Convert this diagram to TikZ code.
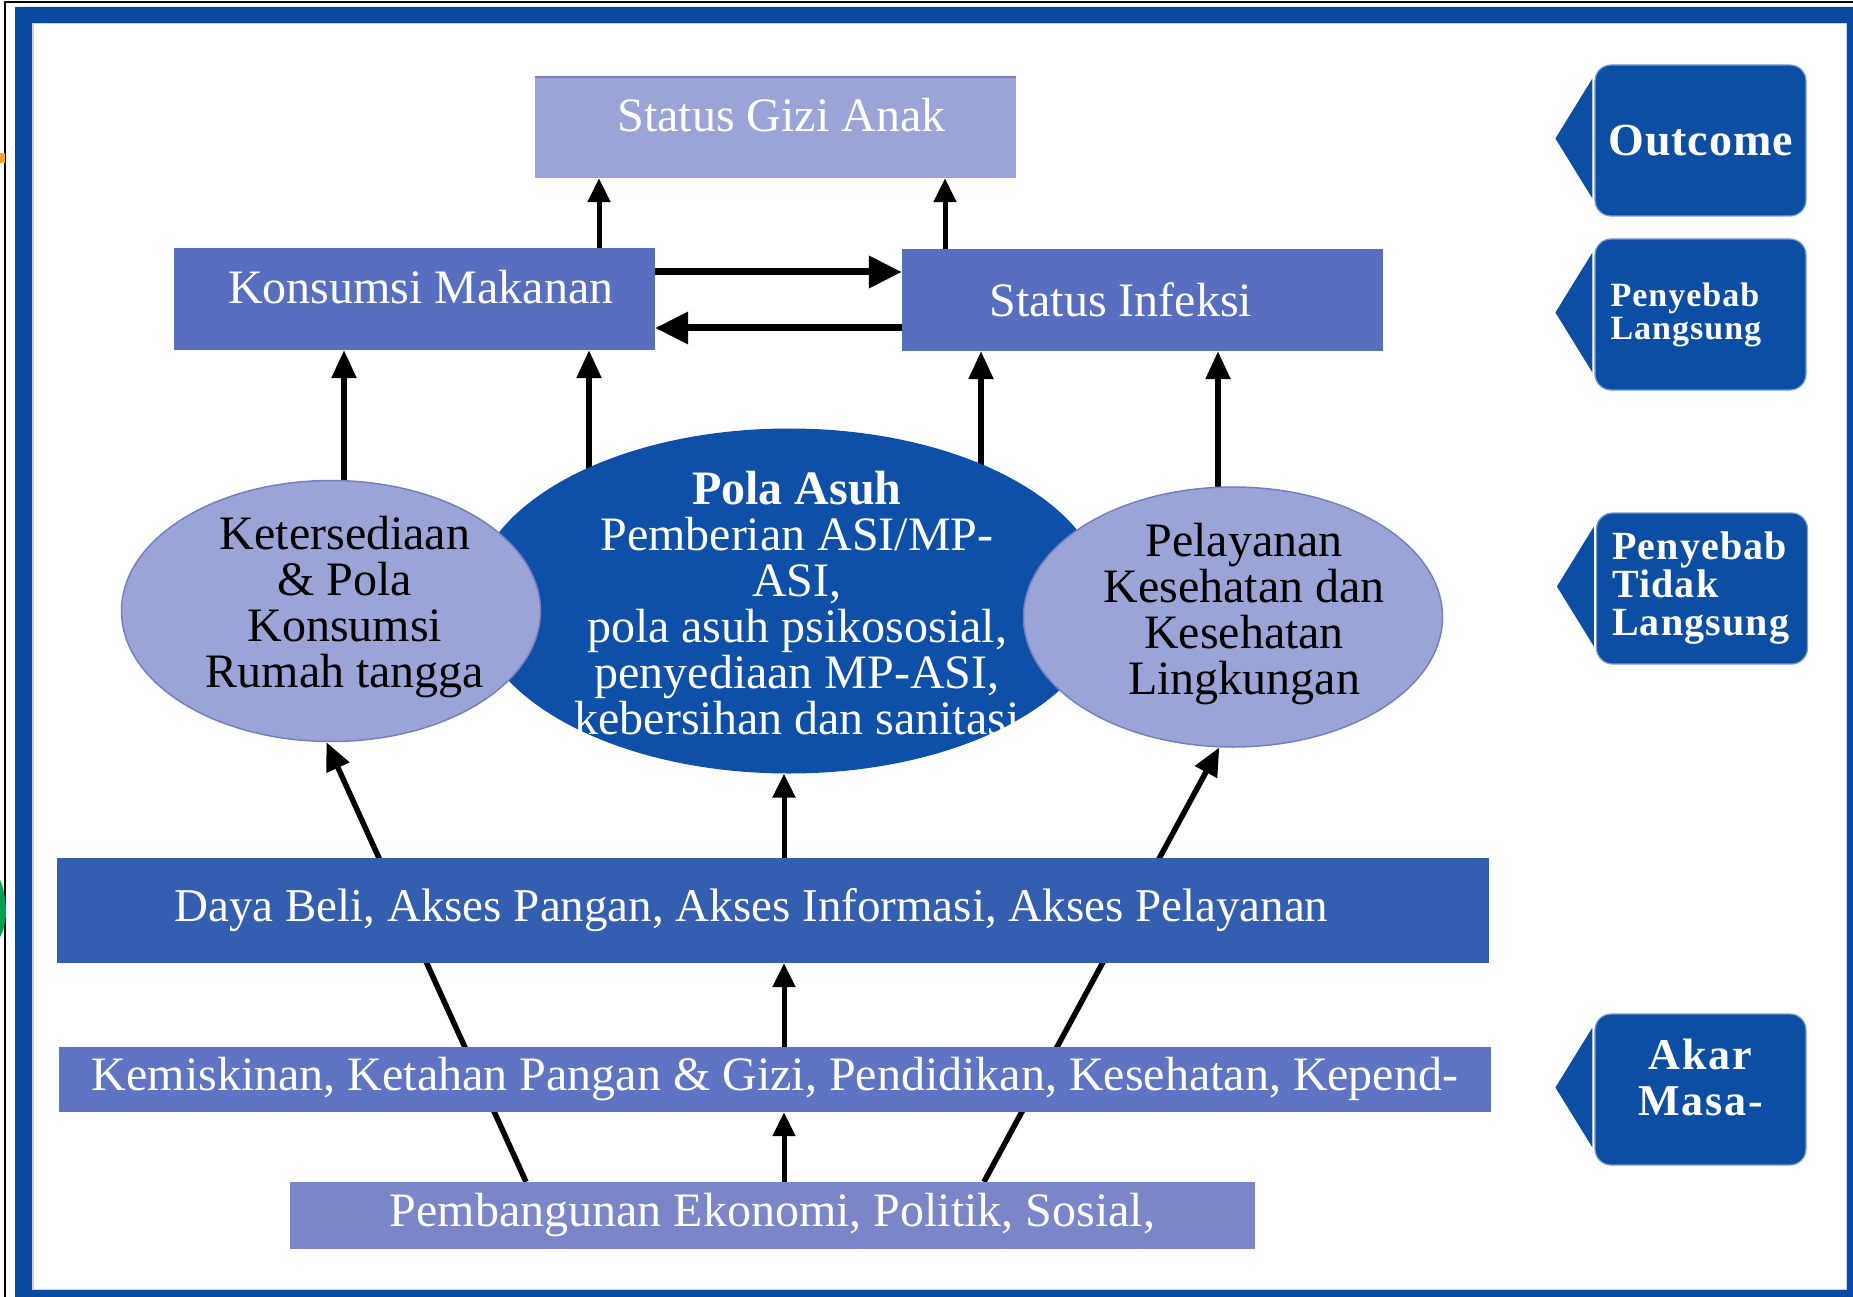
\documentclass[tikz,border=0pt]{standalone}
\usepackage{fontspec}
\setmainfont{Liberation Serif}
\usepackage{tikz}
\usetikzlibrary{arrows.meta, calc, positioning, shapes.geometric, backgrounds}
\usepackage{xcolor}

\definecolor{bingkai}{RGB}{10,74,160}
\definecolor{biruTua}{RGB}{14,79,168}
\definecolor{biruLabel}{RGB}{11,78,164}
\definecolor{biruSedang}{RGB}{88,111,192}
\definecolor{biruBeli}{RGB}{52,94,176}
\definecolor{biruMiskin}{RGB}{96,116,196}
\definecolor{biruBangun}{RGB}{122,134,200}
\definecolor{lavender}{RGB}{155,164,214}
\definecolor{garisElips}{RGB}{118,128,192}
\definecolor{oranye}{RGB}{245,166,35}
\definecolor{hijau}{RGB}{0,160,80}

\newcommand{\hurufisi}{\fontsize{48}{46}\selectfont}

\begin{document}
\begin{tikzpicture}[x=1pt, y=-1pt,
    kotak/.style={rectangle, minimum width=481pt, minimum height=101pt, inner sep=0pt, text=white, font=\hurufisi},
    pita/.style={rectangle, minimum width=1432pt, inner sep=0pt, text=white},
    elips/.style={ellipse, inner sep=0pt, minimum width=419pt, minimum height=261pt, fill=lavender, draw=garisElips, line width=1.5pt},
    isi/.style={align=center, inner sep=0pt, font=\hurufisi},
    tingkat/.style={rectangle, rounded corners=16pt, fill=biruLabel, draw=biruLabel!55!white, line width=1.2pt, minimum width=211pt, minimum height=151pt, inner sep=0pt, text=white},
    panah/.style={line width=5.5pt, -{Triangle[length=28pt, width=24pt]}},
    panahkecil/.style={line width=5pt, -{Triangle[length=24pt, width=22pt]}},
    panahtebal/.style={line width=7pt, -{Triangle[length=33pt, width=31pt]}},
  ]
    \useasboundingbox (0,0) rectangle (1853,1297);

    % Outcome
    \node[kotak, fill=lavender, text height=33pt, text depth=24pt, text width=340pt, align=flush right] (gizi) at (775.5,127.5) {Status Gizi Anak};
    \draw[garisElips, line width=2pt] (gizi.north west) -- (gizi.north east);

    % Penyebab langsung
    \node[kotak, fill=biruSedang, minimum height=102pt, text height=33pt, text depth=24pt, text width=398pt, align=flush right] (konsumsi) at (414.5,299) {Konsumsi Makanan};
    \node[kotak, fill=biruSedang, minimum height=102pt, text width=306pt, align=flush left] (infeksi) at (1142.5,300) {Status Infeksi};

    % Penyebab tidak langsung
    \node[ellipse, inner sep=0pt, minimum width=632pt, minimum height=345pt, fill=biruTua] (pola) at (789,601) {};
    \node[isi, text=white] (polateks) at (797,603) {\textbf{Pola Asuh}\\Pemberian ASI/MP-\\ASI,\\pola asuh psikososial,\\penyediaan MP-ASI,\\kebersihan dan sanitasi};
    \node[elips] (keter) at (331,611) {};
    \node[isi] (keterteks) at (345,607) {Ketersediaan\\\& Pola\\Konsumsi\\Rumah tangga};
    \node[elips, minimum height=260pt] (pelay) at (1233,617) {};
    \node[isi] (pelayteks) at (1244,614) {Pelayanan\\Kesehatan dan\\Kesehatan\\Lingkungan};

    % Akar masalah
    \node[pita, fill=biruBeli, minimum height=105pt, text width=1197pt, align=flush left,
      font=\fontsize{47}{48}\selectfont] (beli) at (773,910.5)
      {Daya Beli, Akses Pangan, Akses Informasi, Akses Pelayanan};
    \node[pita, fill=biruMiskin, minimum height=65pt,
      font=\fontsize{48}{48}\selectfont] (miskin) at (775,1079.5)
      {Kemiskinan, Ketahan Pangan \& Gizi, Pendidikan, Kesehatan, Kepend-};
    \node[pita, fill=biruBangun, minimum width=965pt, minimum height=67pt,
      font=\fontsize{48}{48}\selectfont] (bangun) at (772.5,1215.5)
      {Pembangunan Ekonomi, Politik, Sosial,};

    % Label tingkat
    \node[tingkat, font=\fontsize{46}{48}\selectfont\bfseries\addfontfeatures{LetterSpace=2}] (hasil) at (1700.5,140.5) {Outcome};
    \node[tingkat, align=flush left, text width=180pt, font=\fontsize{34}{33}\selectfont\bfseries\addfontfeatures{LetterSpace=3}] (langsung) at (1700.5,314.5) {Penyebab\\Langsung};
    \node[tingkat, align=flush left, text width=180pt, font=\fontsize{40}{38}\selectfont\bfseries\addfontfeatures{LetterSpace=3}] (tidak) at (1702,588.5) {Penyebab\\Tidak\\Langsung};
    \node[tingkat, align=center, text depth=24pt, font=\fontsize{44}{46}\selectfont\bfseries\addfontfeatures{LetterSpace=4}] (akar) at (1700.5,1089.5) {Akar\\Masa-};
    \foreach \n in {hasil, langsung, tidak, akar}
      \fill[biruLabel] ([xshift=-2pt, yshift=62pt]\n.west) -- ([xshift=-39pt, yshift=2pt]\n.west) -- ([xshift=-2pt, yshift=-58pt]\n.west) -- cycle;

    % Panah atas
    \draw[panahkecil] ([xshift=184.5pt]konsumsi.north) -- ([xshift=184.5pt]konsumsi.north |- gizi.south);
    \draw[panahkecil] ([xshift=-197.5pt]infeksi.north) -- ([xshift=-197.5pt]infeksi.north |- gizi.south);
    \draw[panahtebal] ([yshift=27pt]konsumsi.east) -- ([yshift=27pt]konsumsi.east -| infeksi.west);
    \draw[panahtebal] ([yshift=-28pt]infeksi.west) -- ([yshift=-28pt]infeksi.west -| konsumsi.east);

    % Panah tengah
    \draw[panahkecil] ([xshift=11.5pt]bangun.north) -- ([xshift=11.5pt]bangun.north |- miskin.south);
    \draw[panahkecil] ([xshift=9pt]miskin.north) -- ([xshift=9pt]miskin.north |- beli.south);
    \draw[panahkecil] ([xshift=11pt]beli.north) -- ([xshift=11pt]beli.north |- pola.south);

    \begin{pgfonlayer}{background}
      \fill[white] (0,0) rectangle (1853,1297);
      % bingkai
      \fill[bingkai, even odd rule] (15,7) rectangle (1870,1310) (32,23) rectangle (1847,1290);
      \draw[blue!20, line width=1.5pt] (32.75,23.75) rectangle (1846.25,1289.25);
      \draw[black, line width=1.8pt] (5,1297) -- (5,2) -- (1853,2);
      \fill[oranye] (0,153) rectangle (4.5,163);
      \fill[hijau] (0,880) .. controls (5,890) and (6,905) .. (6,912) .. controls (6,920) and (4,930) .. (0,937) -- cycle;

      % panah ke penyebab langsung
      \draw[panah] ([xshift=13pt]keter.center) -- ([xshift=13pt]keter.center |- konsumsi.south);
      \draw[panah] ([xshift=-200pt]pola.center) -- ([xshift=-200pt]pola.center |- konsumsi.south);
      \draw[panah] ([xshift=192pt]pola.center) -- ([xshift=192pt]pola.center |- infeksi.south);
      \draw[panah] ([xshift=-15pt]pelay.center) -- ([xshift=-15pt]pelay.center |- infeksi.south);

      % garis diagonal
      \draw[panah] ([xshift=-246.5pt]bangun.north) -- (keter.268);
      \draw[panah] ([xshift=211.5pt]bangun.north) -- (pelay.264);
    \end{pgfonlayer}
\end{tikzpicture}
\end{document}
